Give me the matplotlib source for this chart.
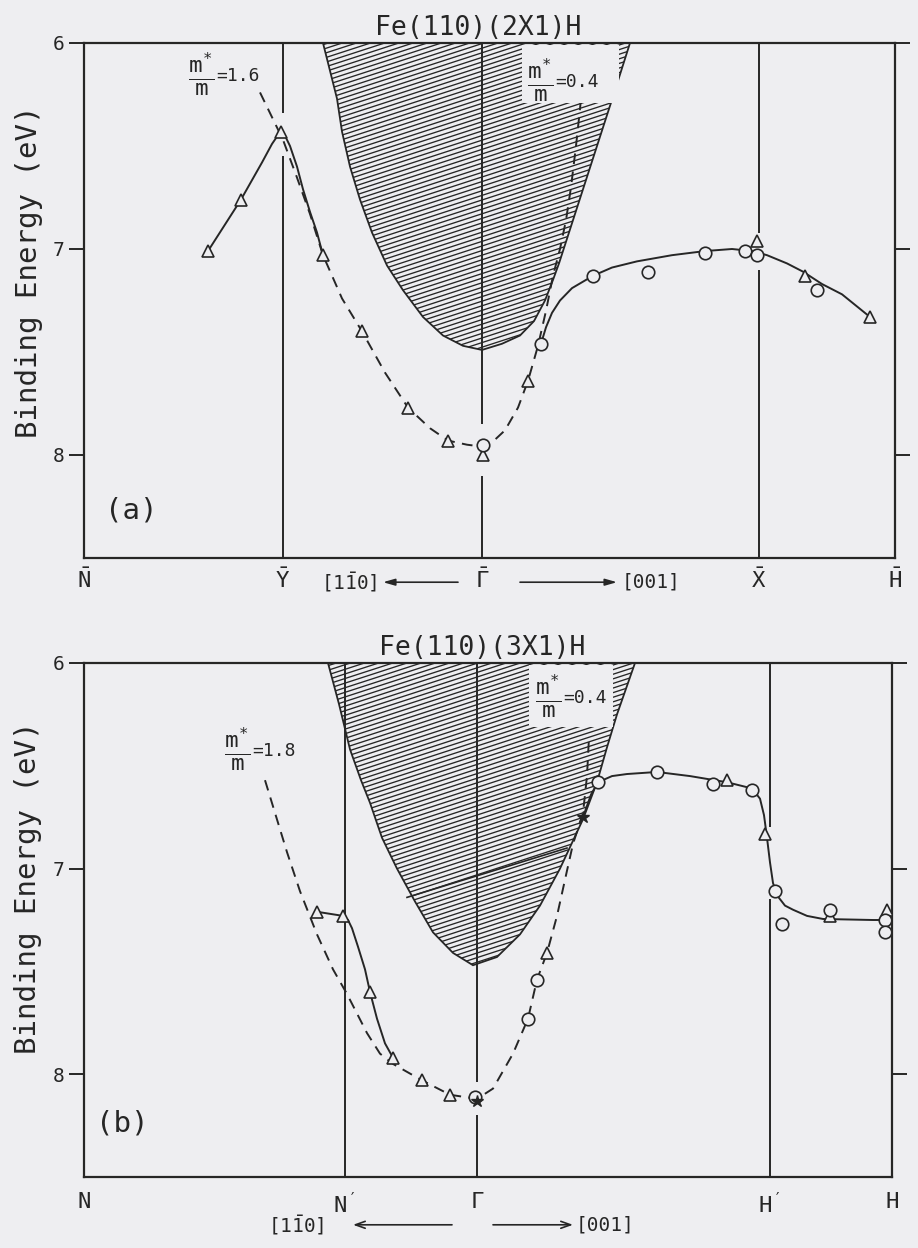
import numpy as np
import matplotlib
matplotlib.use('Agg')
import matplotlib.pyplot as plt
from matplotlib.patches import Polygon, Rectangle
from matplotlib.collections import LineCollection

plt.rcParams['font.family'] = ['DejaVu Sans Mono', 'DejaVu Sans']
plt.rcParams['mathtext.fontset'] = 'custom'
plt.rcParams['mathtext.rm'] = 'DejaVu Sans Mono'
plt.rcParams['mathtext.it'] = 'DejaVu Sans Mono'
plt.rcParams['mathtext.bf'] = 'DejaVu Sans Mono:bold'

paper = '#eeeef1'
ink = '#262626'

# ---------------- (a) Fe(110)(2X1)H   (k in arbitrary units, Gamma = 0) ----------------
sym_lab_a = [r'$\bar{N}$', r'$\bar{Y}$', r'$\bar{\Gamma}$', r'$\bar{X}$', r'$\bar{H}$']
sym_k_a = [-3.98, -1.99, 0.0, 2.77, 4.13]
# vertical lines at Y, Gamma, X (pieces between gaps)
vl_k_a = [-1.99, -1.99, 0.0, 0.0, 2.77, 2.77]
vl_e0_a = [6.0, 6.55, 6.0, 8.10, 6.0, 7.10]
vl_e1_a = [6.34, 8.5, 7.85, 8.5, 6.92, 8.5]

tri_k_a = [-2.74, -2.41, -2.01, -1.59, -1.20, -0.74, -0.34, 0.01, 0.46, 2.75, 3.23, 3.88]
tri_e_a = [7.01, 6.76, 6.43, 7.03, 7.40, 7.77, 7.93, 8.00, 7.64, 6.96, 7.13, 7.33]
circ_k_a = [0.01, 0.59, 1.11, 1.66, 2.23, 2.63, 2.75, 3.35]
circ_e_a = [7.95, 7.46, 7.13, 7.11, 7.02, 7.01, 7.03, 7.20]

solid1_k_a = [-2.74, -2.41, -2.20, -2.10, -2.03, -1.98, -1.92, -1.85, -1.79, -1.72, -1.65, -1.59]
solid1_e_a = [7.01, 6.76, 6.58, 6.49, 6.44, 6.44, 6.50, 6.60, 6.71, 6.82, 6.92, 7.03]
solid2_k_a = [0.59, 0.64, 0.70, 0.78, 0.90, 1.11, 1.30, 1.55, 1.90, 2.23, 2.50, 2.70, 2.85, 3.05, 3.21, 3.40, 3.60, 3.88]
solid2_e_a = [7.46, 7.38, 7.31, 7.25, 7.19, 7.13, 7.09, 7.06, 7.03, 7.01, 7.00, 7.01, 7.03, 7.07, 7.11, 7.17, 7.22, 7.33]

dash_k_a = [-2.22, -2.10, -1.99, -1.86, -1.72, -1.59, -1.40, -1.20, -0.97, -0.74, -0.52,
            -0.34, -0.15, 0.01, 0.12, 0.23, 0.36, 0.46, 0.56, 0.64, 0.71, 0.78, 0.84,
            0.89, 0.94, 0.98, 1.02]
dash_e_a = [6.24, 6.36, 6.47, 6.64, 6.83, 7.03, 7.24, 7.40, 7.60, 7.77, 7.87,
            7.93, 7.95, 7.96, 7.93, 7.88, 7.77, 7.64, 7.47, 7.30, 7.13, 7.00, 6.86,
            6.70, 6.50, 6.32, 6.12]

band_k_a = [-1.59, -1.45, -1.40, -1.32, -1.22, -1.10, -0.95, -0.79, -0.59, -0.39, -0.19, 0.0,
            0.20, 0.38, 0.52, 0.63, 0.71, 0.77, 0.95, 1.13, 1.31, 1.48]
band_e_a = [6.0, 6.27, 6.43, 6.60, 6.76, 6.92, 7.08, 7.20, 7.33, 7.42, 7.47, 7.49,
            7.46, 7.42, 7.35, 7.25, 7.15, 7.07, 6.80, 6.53, 6.26, 6.0]

# ---------------- (b) Fe(110)(3X1)H ----------------
sym_lab_b = [r'$N$', r"$N'$", r'$\Gamma$', r"$H'$", r'$H$']
sym_k_b = [-3.93, -1.32, 0.0, 2.93, 4.15]
vl_k_b = [-1.32, 0.0, 0.0, 2.93, 2.93]
vl_e0_b = [6.0, 6.0, 8.20, 6.0, 7.15]
vl_e1_b = [8.5, 8.04, 8.5, 6.80, 8.5]

tri_k_b = [-1.60, -1.34, -1.07, -0.84, -0.55, -0.27, 0.70, 2.50, 2.88, 3.53, 4.10]
tri_e_b = [7.21, 7.23, 7.60, 7.92, 8.03, 8.10, 7.41, 6.57, 6.83, 7.23, 7.20]
circ_k_b = [-0.02, 0.51, 0.60, 1.21, 1.80, 2.36, 2.75, 2.98, 3.05, 3.53, 4.08, 4.08]
circ_e_b = [8.11, 7.73, 7.54, 6.58, 6.53, 6.59, 6.62, 7.11, 7.27, 7.20, 7.25, 7.31]
star_k_b = [0.0, 1.06]
star_e_b = [8.13, 6.75]

solid1_k_b = [-1.60, -1.34, -1.29, -1.25, -1.19, -1.12, -1.07, -1.00, -0.92, -0.84]
solid1_e_b = [7.21, 7.23, 7.25, 7.29, 7.38, 7.49, 7.60, 7.73, 7.85, 7.92]
solid2_k_b = [1.06, 1.14, 1.21, 1.35, 1.50, 1.80, 2.13, 2.50, 2.75, 2.83, 2.87, 2.90,
              2.93, 2.96, 3.00, 3.08, 3.16, 3.30, 3.46, 3.96, 4.10]
solid2_e_b = [6.75, 6.64, 6.58, 6.55, 6.54, 6.53, 6.55, 6.58, 6.61, 6.66, 6.74, 6.85,
              6.97, 7.07, 7.13, 7.18, 7.20, 7.23, 7.245, 7.25, 7.25]

dash_k_b = [-2.12, -1.90, -1.77, -1.60, -1.44, -1.30, -1.10, -0.97, -0.84, -0.55, -0.27,
            0.0, 0.16, 0.36, 0.51, 0.60, 0.70, 0.80, 0.90, 0.96, 1.06, 1.10, 1.12]
dash_e_b = [6.57, 6.92, 7.11, 7.32, 7.49, 7.61, 7.80, 7.90, 7.95, 8.03, 8.10,
            8.12, 8.07, 7.90, 7.73, 7.54, 7.41, 7.23, 7.01, 6.88, 6.73, 6.55, 6.36]

band_k_b = [-1.49, -1.38, -1.27, -1.16, -1.07, -0.95, -0.80, -0.62, -0.44, -0.24, -0.04,
            0.20, 0.43, 0.63, 0.83, 1.06, 1.20, 1.30, 1.40, 1.58]
band_e_b = [6.0, 6.20, 6.42, 6.57, 6.68, 6.85, 7.00, 7.16, 7.31, 7.41, 7.47,
            7.43, 7.32, 7.18, 7.00, 6.76, 6.58, 6.41, 6.25, 6.0]
inner_k_b = [-0.70, 0.90]
inner_e_b = [7.14, 6.90]


def hatch_band(ax, kk, ee):
    edge = Polygon(np.column_stack([kk, ee]), closed=True, fill=False,
                   ec=ink, lw=1.3, zorder=3)
    ax.add_patch(edge)
    w, h = ax.bbox.width, ax.bbox.height
    slope = np.tan(np.radians(18)) * w / h
    step = 4.6 / h
    offs = np.arange(-slope - step, 1 + step, step)
    segs = [[(0, y0), (1, y0 + slope)] for y0 in offs]
    lc = LineCollection(segs, colors=ink, lw=0.95, transform=ax.transAxes, zorder=2)
    ax.add_collection(lc, autolim=False)
    lc.set_clip_path(edge)


def mass_label(ax, k, e, val):
    ax.annotate(r'$\frac{m^{*}}{m}$', (k, e), xytext=(-1, 1), textcoords='offset points',
                ha='right', va='center', fontsize=23, color=ink, zorder=7)
    ax.annotate('=' + val, (k, e), xytext=(0, 0), textcoords='offset points',
                ha='left', va='center', fontsize=13, color=ink, zorder=7)


def frame(ax, sym_k, sym_lab, xlim, pad):
    ax.set_facecolor(paper)
    ax.set_xlim(*xlim)
    ax.set_ylim(8.5, 6.0)
    ax.set_yticks([6, 7, 8])
    ax.set_xticks(sym_k)
    ax.set_xticklabels(sym_lab, fontsize=16)
    ax.tick_params(axis='x', length=0, pad=pad, colors=ink)
    ax.tick_params(axis='y', direction='out', length=11, width=1.4, right=True,
                   labelsize=14, pad=3, colors=ink)
    for s in ax.spines.values():
        s.set_linewidth(1.6)
        s.set_color(ink)


def draw_data(ax, vk, ve0, ve1, tk, te, ck, ce, curves_solid, curve_dash):
    ax.vlines(vk, ve0, ve1, colors=ink, lw=1.4, zorder=3)
    for kk, ee in curves_solid:
        ax.plot(kk, ee, color=ink, lw=1.4, zorder=4)
    ax.plot(curve_dash[0], curve_dash[1], color=ink, lw=1.4, ls=(0, (5.5, 3.8)), zorder=4)
    ax.plot(tk, te, ls='none', marker='^', ms=8, mfc=paper, mec=ink, mew=1.2, zorder=6)
    ax.plot(ck, ce, ls='none', marker='o', ms=9, mfc=paper, mec=ink, mew=1.2, zorder=6)


fig = plt.figure(figsize=(9.18, 12.48), dpi=100, facecolor=paper)
ax_a = fig.add_axes([84 / 918, 1 - 558 / 1248, 811 / 918, 515 / 1248])
ax_b = fig.add_axes([84 / 918, 1 - 1177 / 1248, 808 / 918, 514 / 1248])

# ---- panel (a)
frame(ax_a, sym_k_a, sym_lab_a, (-3.98, 4.13), 7)
hatch_band(ax_a, band_k_a, band_e_a)
draw_data(ax_a, vl_k_a, vl_e0_a, vl_e1_a, tri_k_a, tri_e_a, circ_k_a, circ_e_a,
          [(solid1_k_a, solid1_e_a), (solid2_k_a, solid2_e_a)], (dash_k_a, dash_e_a))
ax_a.add_patch(Rectangle((0.40, 6.01), 0.97, 0.28, fc=paper, ec='none', zorder=4.5))
mass_label(ax_a, -2.66, 6.16, '1.6')
mass_label(ax_a, 0.73, 6.19, '0.4')
ax_a.text(0.486, 1.004, 'Fe(110)(2X1)H', transform=ax_a.transAxes, ha='center',
          va='bottom', fontsize=19, color=ink)
ax_a.text(-3.51, 8.27, '(a)', fontsize=21, ha='center', va='center', color=ink)
ax_a.text(-0.068, 0.555, 'Binding Energy (eV)', rotation=90, transform=ax_a.transAxes,
          ha='center', va='center', fontsize=21, color=ink)
tr = ax_a.get_xaxis_transform()
ax_a.text(-1.33, -0.047, r'$[1\bar{1}0]$', transform=tr, ha='center', va='center',
          fontsize=14, color=ink)
ax_a.text(1.69, -0.047, '[001]', transform=tr, ha='center', va='center', fontsize=14, color=ink)
arr = dict(arrowstyle='-|>,head_length=0.7,head_width=0.2', color=ink, lw=1.2,
           shrinkA=0, shrinkB=0)
ax_a.annotate('', xy=(-0.99, -0.047), xytext=(-0.24, -0.047), xycoords=tr,
              arrowprops=arr, annotation_clip=False)
ax_a.annotate('', xy=(1.35, -0.047), xytext=(0.38, -0.047), xycoords=tr,
              arrowprops=arr, annotation_clip=False)

# ---- panel (b)
frame(ax_b, sym_k_b, sym_lab_b, (-3.93, 4.15), 11)
hatch_band(ax_b, band_k_b, band_e_b)
ax_b.plot(inner_k_b, inner_e_b, color=ink, lw=1.2, zorder=3)
draw_data(ax_b, vl_k_b, vl_e0_b, vl_e1_b, tri_k_b, tri_e_b, circ_k_b, circ_e_b,
          [(solid1_k_b, solid1_e_b), (solid2_k_b, solid2_e_b)], (dash_k_b, dash_e_b))
ax_b.plot(star_k_b, star_e_b, ls='none', marker='*', ms=9, color=ink, zorder=7)
ax_b.add_patch(Rectangle((0.52, 6.01), 0.84, 0.30, fc=paper, ec='none', zorder=4.5))
mass_label(ax_b, -2.25, 6.43, '1.8')
mass_label(ax_b, 0.86, 6.17, '0.4')
ax_b.text(0.493, 1.004, 'Fe(110)(3X1)H', transform=ax_b.transAxes, ha='center',
          va='bottom', fontsize=19, color=ink)
ax_b.text(-3.55, 8.24, '(b)', fontsize=21, ha='center', va='center', color=ink)
ax_b.text(-0.069, 0.562, 'Binding Energy (eV)', rotation=90, transform=ax_b.transAxes,
          ha='center', va='center', fontsize=21, color=ink)
tr = ax_b.get_xaxis_transform()
ax_b.text(-1.81, -0.093, r'$[1\bar{1}0]$', transform=tr, ha='center', va='center',
          fontsize=14, color=ink)
ax_b.text(1.28, -0.093, '[001]', transform=tr, ha='center', va='center', fontsize=14, color=ink)
arr_b = dict(arrowstyle='->,head_length=0.7,head_width=0.25', color=ink, lw=1.2,
             shrinkA=0, shrinkB=0)
ax_b.annotate('', xy=(-1.24, -0.093), xytext=(-0.25, -0.093), xycoords=tr,
              arrowprops=arr_b, annotation_clip=False)
ax_b.annotate('', xy=(0.96, -0.093), xytext=(0.16, -0.093), xycoords=tr,
              arrowprops=arr_b, annotation_clip=False)

fig.savefig('out.png', dpi=100, facecolor=paper)
